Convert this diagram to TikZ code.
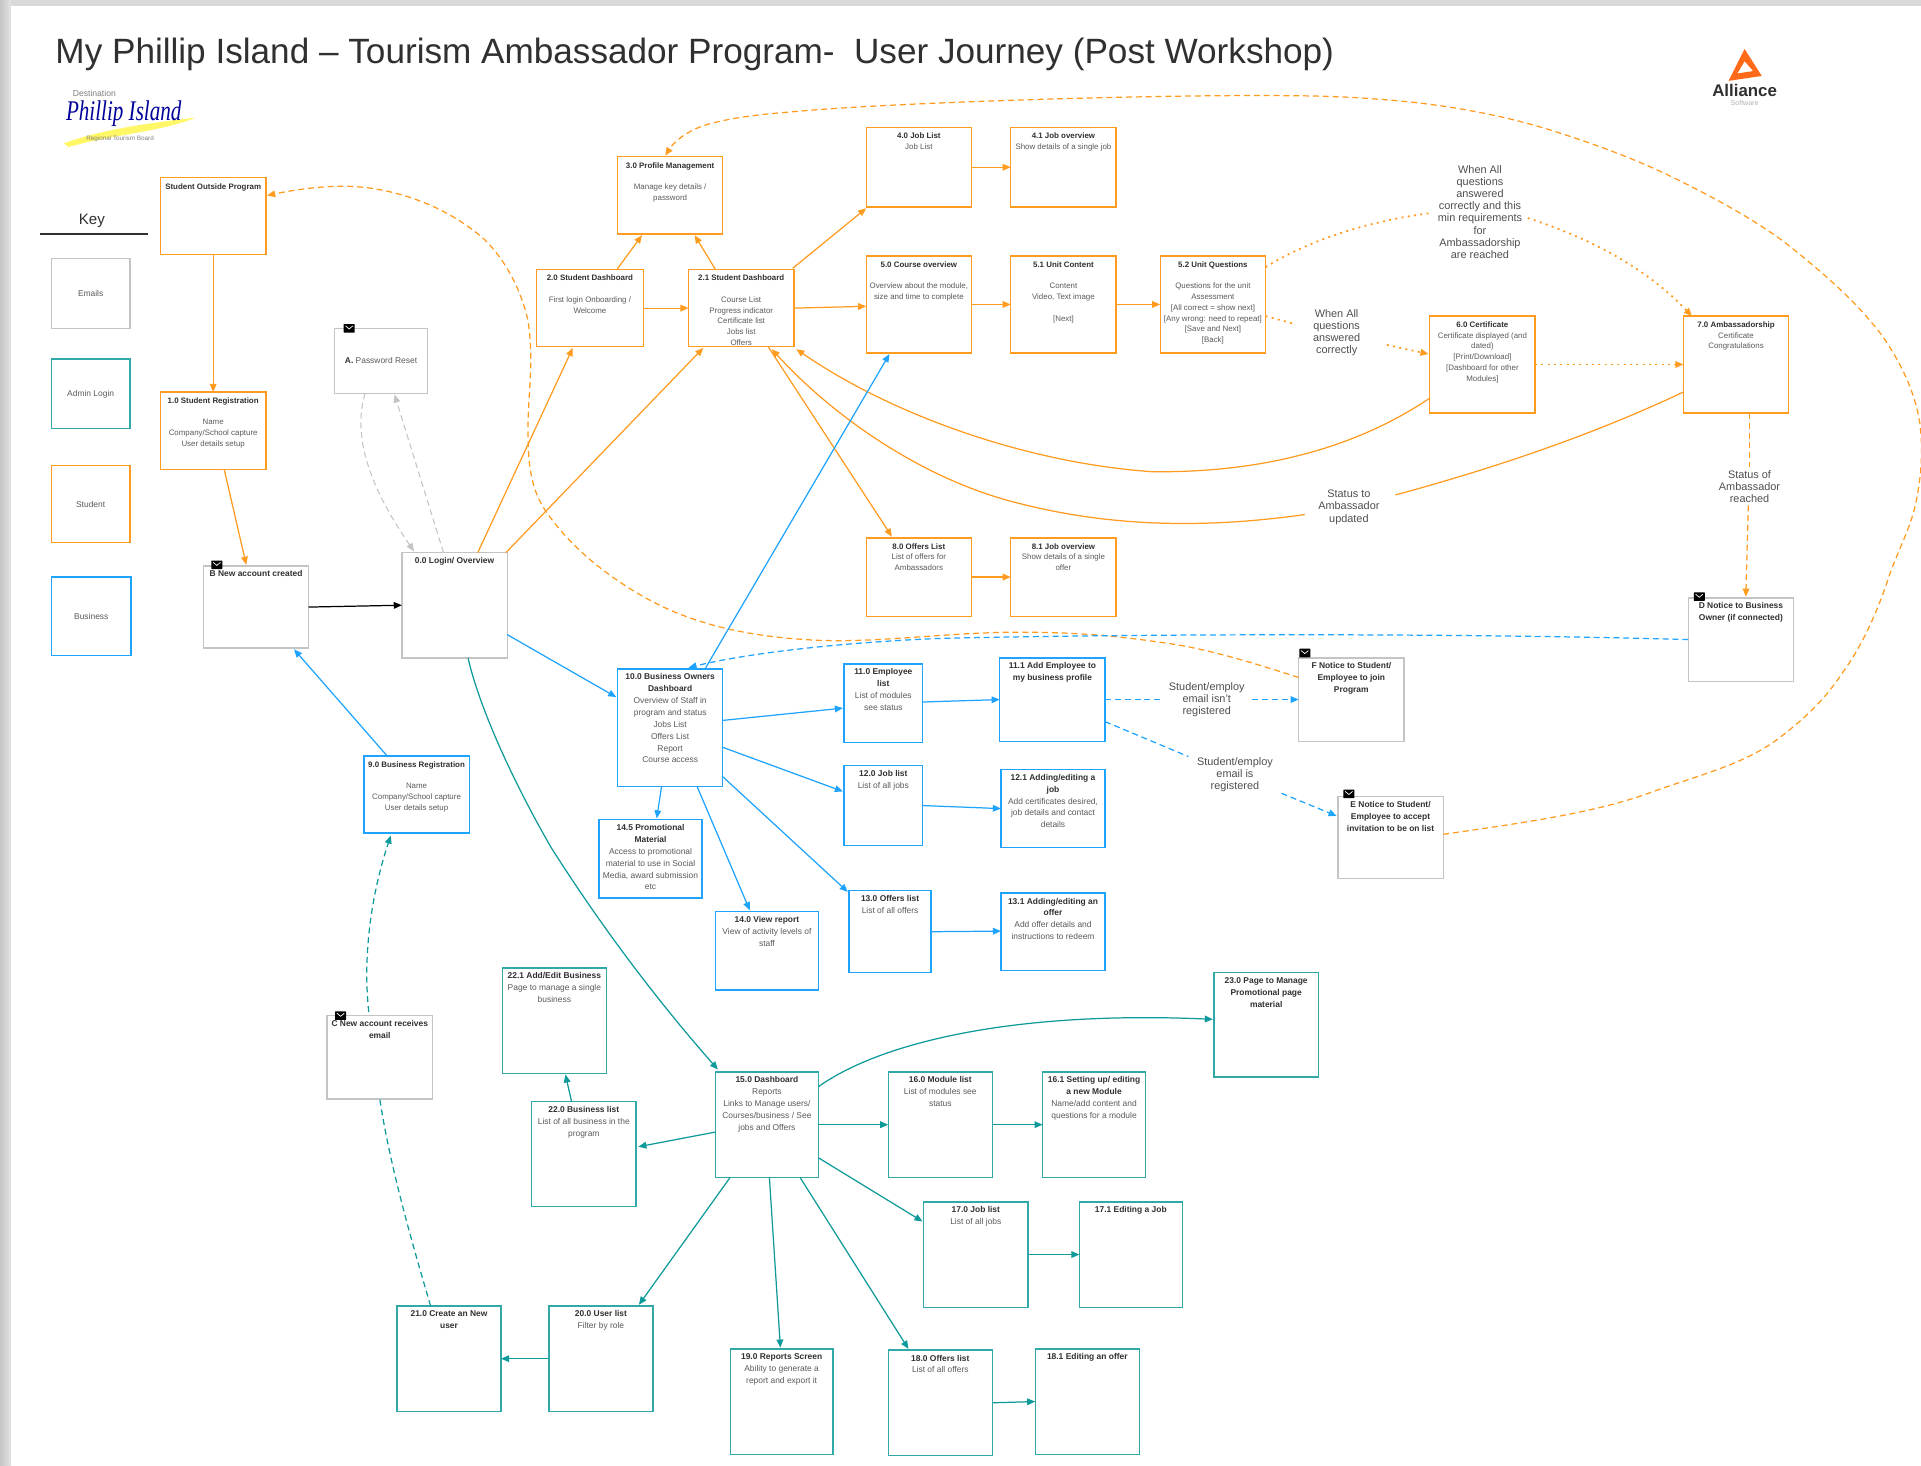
\documentclass[tikz,border=0pt]{standalone}
\usepackage{fontspec}
\setmainfont{Liberation Sans}
\newfontfamily\logoserif{Liberation Serif}
\usetikzlibrary{arrows.meta,calc}
\definecolor{oran}{HTML}{FF9B1F}
\definecolor{blu}{HTML}{1EA3FF}
\definecolor{tea}{HTML}{0E9A9A}
\definecolor{gra}{HTML}{C4C4C4}
\definecolor{titlec}{HTML}{303030}
\definecolor{bodyc}{HTML}{5A5A5A}
\newcommand{\T}[1]{{\color{titlec}\bfseries #1}}
\newcommand{\bxgap}{2pt}
\newcommand{\bx}[7]{%
 \pgfmathsetlengthmacro\bxw{(#5-#3)*0.0245cm}%
 \pgfmathsetlengthmacro\bxh{(#6-#4)*0.0245cm}%
 \node[boxs,#2,minimum width=\bxw,minimum height=\bxh] (#1) at ({(#3+#5)/2},{(#4+#6)/2})
 {\vbox to \bxh{\vskip \bxgap\hbox to \bxw{\hss\begin{tabular}[t]{@{}c@{}}#7\end{tabular}\hss}\vss}};}
\newcommand{\bxc}[7]{%
 \pgfmathsetlengthmacro\bxw{(#5-#3)*0.0245cm}%
 \pgfmathsetlengthmacro\bxh{(#6-#4)*0.0245cm}%
 \node[boxs,#2,font=\fontsize{4.8}{6.1}\selectfont,minimum width=\bxw,minimum height=\bxh] (#1) at ({(#3+#5)/2},{(#4+#6)/2}) {#7};}
\newcommand{\env}[2]{%
 \fill[black,rounded corners=0.3pt] ({#1-4.5},{#2-3.5}) rectangle ({#1+4.5},{#2+3.5});
 \draw[white,line width=0.4pt] ({#1-3},{#2-2}) -- (#1,{#2+0.5}) -- ({#1+3},{#2-2});}
\tikzset{
 x=0.0245cm,y=-0.0245cm,
 boxs/.style={rectangle,draw,line width=0.75pt,inner sep=0pt,outer sep=0pt,fill=white,text=bodyc,align=center},
 ob/.style={draw=oran,font=\fontsize{4.5}{6.1}\selectfont\renewcommand{\bxgap}{2.2pt}},
 bb/.style={draw=blu,font=\fontsize{4.8}{6.75}\selectfont\renewcommand{\bxgap}{1.5pt}},
 tb/.style={draw=tea!85!white,font=\fontsize{4.8}{6.75}\selectfont\renewcommand{\bxgap}{1.5pt}},
 gb/.style={draw=gra,font=\fontsize{4.8}{6.75}\selectfont\renewcommand{\bxgap}{1.5pt}},
 tightl/.style={font=\fontsize{4.5}{6.1}\selectfont\renewcommand{\bxgap}{2.2pt}},
 lab/.style={inner sep=0pt,align=center,text=titlec!85!white,font=\fontsize{6.2}{6.9}\selectfont},
 arr/.style={-{Triangle[length=4.6pt,width=3.8pt]}},
 oline/.style={draw=oran,line width=0.7pt},
 bline/.style={draw=blu,line width=0.7pt},
 tline/.style={draw=tea,line width=0.7pt},
 gline/.style={draw=gra,line width=0.6pt},
 dsh/.style={dash pattern=on 3.4pt off 2.2pt},
 dotl/.style={line width=1pt,dash pattern=on 1.1pt off 2.5pt},
}
\begin{document}
\begin{tikzpicture}
\useasboundingbox (0,0) rectangle (1568,1196);
% page and shadow
\fill[gray!30] (0,0) rectangle (1568,1196);
\shade[left color=gray!45,right color=gray!22] (0,0) rectangle (9,1196);
\fill[white] (9,5) rectangle (1568,1196);
% title and logos
\node[anchor=west,inner sep=0pt,text=titlec,font=\fontsize{20}{24}\selectfont] (title) at (45,44.500)
 {My Phillip Island – Tourism Ambassador Program-\ \ User Journey (Post Workshop)};
\fill[yellow!60!white] (52,117) .. controls (85,105) and (125,100) .. (160,96) .. controls (130,108) and (90,110) .. (56,120) -- cycle;
\node[inner sep=0pt,text=gray,font=\fontsize{4.9}{6}\selectfont] (logodest) at (77,76) {Destination};
\node[inner sep=0pt,text=blue!60!black,yscale=1.35,font=\logoserif\itshape\fontsize{12}{14}\selectfont] (logophil) at (101,93) {Phillip Island};
\node[inner sep=0pt,text=gray,font=\fontsize{3.6}{5}\selectfont] (logoreg) at (98,113.500) {Regional Tourism Board};
\fill[orange!70!red!90,even odd rule] (1424,40) -- (1438,62) -- (1411,66) -- cycle (1424,50) -- (1418,60) -- (1431,58) -- cycle;
\node[inner sep=0pt,text=titlec,font=\bfseries\fontsize{9.6}{10}\selectfont] (logoall) at (1424,74) {Alliance};
\node[inner sep=0pt,text=gray!60,font=\fontsize{4}{5}\selectfont] (logosoft) at (1424,84) {Software};
% key
\node[inner sep=0pt,text=titlec,font=\fontsize{8.6}{10}\selectfont] (keyt) at (75,180) {Key};
\coordinate (keya) at (33,191); \coordinate (keyb) at (121,191);
\draw[titlec,line width=0.6pt] (keya) -- (keyb);
\bxc{kemail}{gb}{42}{211}{106}{268}{Emails}
\bxc{kadmin}{tb}{42}{293}{106}{350}{Admin Login}
\bxc{kstud}{ob}{42}{380}{106}{443}{Student}
\bxc{kbus}{bb}{42}{471}{107}{535}{Business}
% orange boxes
\bx{so}{ob}{131}{145}{217}{208}{\T{Student Outside Program}}
\bx{r1}{ob}{131}{320}{217}{383}{\T{1.0 Student Registration}\\ \\Name\\Company/School capture\\User details setup}
\bx{n20}{ob}{438}{220}{525}{283}{\T{2.0 Student Dashboard}\\ \\First login Onboarding /\\Welcome}
\bx{n21}{ob}{562}{220}{648}{283}{\T{2.1 Student Dashboard}\\ \\Course List\\Progress indicator\\Certificate list\\Jobs list\\Offers}
\bx{n30}{ob}{504}{128}{590}{191}{\T{3.0 Profile Management}\\ \\Manage key details /\\password}
\bx{n40}{ob}{707}{104}{793}{169}{\T{4.0 Job List}\\Job List}
\bx{n41}{ob}{825}{104}{911}{169}{\T{4.1 Job overview}\\Show details of a single job}
\bx{n50}{ob}{707}{209}{793}{288}{\T{5.0 Course overview}\\ \\Overview about the module,\\size and time to complete}
\bx{n51}{ob}{825}{209}{911}{288}{\T{5.1 Unit Content}\\ \\Content\\Video, Text image\\ \\{[Next]}}
\bx{n52}{ob}{947}{209}{1033}{288}{\T{5.2 Unit Questions}\\ \\Questions for the unit\\Assessment\\{[All correct = show next]}\\{[Any wrong: need to repeat]}\\{[Save and Next]}\\{[Back]}}
\bx{n60}{ob}{1167}{258}{1253}{337}{\T{6.0 Certificate}\\Certificate displayed (and\\dated)\\{[Print/Download]}\\{[Dashboard for other}\\Modules{]}}
\bx{n70}{ob}{1374}{258}{1460}{337}{\T{7.0 Ambassadorship}\\Certificate\\Congratulations}
\bx{n80}{ob}{707}{439}{793}{503}{\T{8.0 Offers List}\\List of offers for\\Ambassadors}
\bx{n81}{ob}{825}{439}{911}{503}{\T{8.1 Job overview}\\Show details of a single\\offer}
% gray boxes
\bxc{pa}{gb}{273}{268}{349}{321}{\T{A.} Password Reset}
\bx{nb}{gb}{166}{462}{252}{529}{\T{B New account created}}
\bx{n00}{gb}{328}{451}{414}{537}{\T{0.0 Login/ Overview}}
\bx{nd}{gb}{1378}{488}{1464}{556}{\T{D Notice to Business}\\\T{Owner (if connected)}}
\bx{nf}{gb}{1060}{537}{1146}{605}{\T{F Notice to Student/}\\\T{Employee to join}\\\T{Program}}
\bx{ne}{gb}{1092}{650}{1178}{717}{\T{E Notice to Student/}\\\T{Employee to accept}\\\T{invitation to be on list}}
\bx{nc}{gb}{267}{829}{353}{897}{\T{C New account receives}\\\T{email}}
% blue boxes
\bx{n100}{bb}{504}{546}{590}{642}{\T{10.0 Business Owners}\\\T{Dashboard}\\Overview of Staff in\\program and status\\Jobs List\\Offers List\\Report\\Course access}
\bx{n110}{bb}{689}{542}{753}{606}{\T{11.0 Employee}\\\T{list}\\List of modules\\see status}
\bx{n111}{bb}{816}{537}{902}{605}{\T{11.1 Add Employee to}\\\T{my business profile}}
\bx{n120}{bb}{689}{625}{753}{690}{\T{12.0 Job list}\\List of all jobs}
\bx{n121}{bb}{817}{628}{902}{692}{\T{12.1 Adding/editing a}\\\T{job}\\Add certificates desired,\\job details and contact\\details}
\bx{n130}{bb}{693}{727}{760}{794}{\T{13.0 Offers list}\\List of all offers}
\bx{n131}{bb}{817}{729}{902}{792}{\T{13.1 Adding/editing an}\\\T{offer}\\Add offer details and\\instructions to redeem}
\bx{n145}{bb}{489}{669}{573}{733}{\T{14.5 Promotional}\\\T{Material}\\Access to promotional\\material to use in Social\\Media, award submission\\etc}
\bx{n140}{bb}{584}{744}{668}{808}{\T{14.0 View report}\\View of activity levels of\\staff}
\bx{n90}{bb,tightl}{297}{617}{383}{680}{\T{9.0 Business Registration}\\ \\Name\\Company/School capture\\User details setup}
% teal boxes
\bx{n221}{tb}{410}{790}{495}{876}{\T{22.1 Add/Edit Business}\\Page to manage a single\\business}
\bx{n220}{tb}{434}{899}{519}{985}{\T{22.0 Business list}\\List of all business in the\\program}
\bx{n150}{tb}{584}{875}{668}{961}{\T{15.0 Dashboard}\\Reports\\Links to Manage users/\\Courses/business / See\\jobs and Offers}
\bx{n160}{tb}{725}{875}{810}{961}{\T{16.0 Module list}\\List of modules see\\status}
\bx{n161}{tb}{851}{875}{935}{961}{\T{16.1 Setting up/ editing}\\\T{a new Module}\\Name/add content and\\questions for a module}
\bx{n170}{tb}{754}{981}{839}{1067}{\T{17.0 Job list}\\List of all jobs}
\bx{n171}{tb}{881}{981}{965}{1067}{\T{17.1 Editing a Job}}
\bx{n180}{tb}{725}{1102}{810}{1188}{\T{18.0 Offers list}\\List of all offers}
\bx{n181}{tb}{845}{1101}{930}{1187}{\T{18.1 Editing an offer}}
\bx{n190}{tb}{596}{1101}{680}{1187}{\T{19.0 Reports Screen}\\Ability to generate a\\report and export it}
\bx{n200}{tb}{448}{1066}{533}{1152}{\T{20.0 User list}\\Filter by role}
\bx{n210}{tb}{324}{1066}{409}{1152}{\T{21.0 Create an New}\\\T{user}}
\bx{n230}{tb}{991}{794}{1076}{879}{\T{23.0 Page to Manage}\\\T{Promotional page}\\\T{material}}
% envelope marks
\env{285}{268}\env{177}{461}\env{278}{829}\env{1387}{487}\env{1101}{648}\env{1065}{533}
% edge labels
\node[lab] (L1) at (1208,173) {When All\\questions\\answered\\correctly and this\\min requirements\\for\\Ambassadorship\\are reached};
\node[lab] (L2) at (1091,271.500) {When All\\questions\\answered\\correctly};
\node[lab] (L3) at (1101,414) {Status to\\Ambassador\\updated};
\node[lab] (L4) at (1428,397) {Status of\\Ambassador\\reached};
\node[lab] (L5) at (985,571) {Student/employ\\email isn't\\registered};
\node[lab] (L6) at (1008,632.500) {Student/employ\\email is\\registered};
% orange connectors
\draw[oline,arr] (so) -- (r1);
\draw[oline,arr] ($(r1.south)+(9,0)$) -- ($(nb.north)+(-8,-1)$);
\draw[oline,arr] ($(n00.north)+(19,0)$) -- ($(n20.south)+(-14,1)$);
\draw[oline,arr] ($(n00.north)+(42,0)$) -- ($(n21.south)+(-31,1)$);
\draw[oline,arr] ($(n20.north)+(22,0)$) -- ($(n30.south)+(-23,1)$);
\draw[oline,arr] (n20.east) -- (n21.west);
\draw[oline,arr] ($(n21.north)+(-21,0)$) -- ($(n30.south)+(20,1)$);
\draw[oline,arr] ($(n21.north)+(42,-1)$) -- ($(n40.south west)+(0,1)$);
\draw[oline,arr] (n21.east) -- ($(n50.west)+(0,1.500)$);
\draw[oline,arr] (n40.east) -- (n41.west);
\draw[oline,arr] (n50.east) -- (n51.west);
\draw[oline,arr] (n51.east) -- (n52.west);
\draw[oline,arr] (n80.east) -- (n81.west);
\draw[oline,arr] ($(n21.south)+(22,0)$) -- ($(n80.north)+(-22,-1)$);
\draw[oline,arr] ($(n60.west)+(0,27.500)$) .. controls (1100,370) and (1020,386) .. (940,385) .. controls (840,378) and (730,340) .. ($(n21.south east)+(2,2)$);
\draw[oline] ($(n70.west)+(0,22.500)$) .. controls (1300,355) and (1220,382) .. ($(L3.center)+(38,-10)$);
\draw[oline,arr] ($(L3.center)+(-36,6)$) .. controls (980,432) and (900,430) .. (821,408) .. controls (750,388) and (680,340) .. ($(n21.south)+(25,2)$);
\draw[oline,dsh] ($(n70.south)+(11,0)$) -- ($(L4.north)+(0,-2)$);
\draw[oline,dsh,arr] ($(L4.south)+(-1,2)$) -- ($(nd.north)+(4,-1)$);
\draw[oline,dotl] ($(n52.east)+(0,-30.500)$) .. controls (1070,195) and (1120,180) .. ($(L1.center)+(-41,1)$);
\draw[oline,dotl,arr] ($(L1.center)+(39,5)$) .. controls (1300,195) and (1345,220) .. ($(n70.north)+(-36,0)$);
\draw[oline,dotl] ($(n52.east)+(0,9.500)$) -- ($(L2.center)+(-34,-7)$);
\draw[oline,dotl,arr] ($(L2.center)+(41,10)$) -- ($(n60.west)+(-1,-8.500)$);
\draw[oline,dotl,arr] (n60.east) -- (n70.west);
\draw[oline,dsh,arr] ($(ne.east)+(0,-2.500)$) .. controls (1240,672) and (1300,664) .. (1347,647) .. controls (1385,633) and (1425,624) .. (1454,601) .. controls (1476,584) and (1490,570) .. (1504,549) .. controls (1520,527) and (1532,500) .. (1541,473) .. controls (1548,452) and (1558,434) .. (1563,414) .. controls (1568,392) and (1570,368) .. (1567,345) .. controls (1563,320) and (1552,297) .. (1537,275) .. controls (1517,248) and (1490,224) .. (1457,198) .. controls (1430,178) and (1400,162) .. (1370,147) .. controls (1336,130) and (1300,117) .. (1265,106) .. controls (1220,92) and (1170,84) .. (1125,81) .. controls (1090,78) and (1055,78) .. (1020,78) .. controls (930,78) and (750,83) .. (661,90) .. controls (625,93) and (600,95) .. (576,102) .. controls (560,107) and (550,116) .. ($(n30.north)+(-4,-1)$);
\draw[oline,dsh,arr] ($(nf.west)+(0,-18)$) .. controls (1020,540) and (980,528) .. (945,524) .. controls (905,518) and (870,516) .. (832,516) .. controls (770,516) and (710,526) .. (657,522) .. controls (625,520) and (595,515) .. (568,506) .. controls (550,500) and (535,493) .. (520,484) .. controls (490,466) and (465,445) .. (446,418) .. controls (432,398) and (431,375) .. (431,350) .. controls (431,320) and (436,295) .. (431,262) .. controls (425,235) and (412,212) .. (396,196) .. controls (365,168) and (320,152) .. (280,152) .. controls (260,152) and (240,155) .. ($(so.east)+(1,-17)$);
% blue connectors
\draw[bline,arr] ($(n00.east)+(0,24)$) -- ($(n100.west)+(-1,-25)$);
\draw[bline,arr] ($(n90.north)+(-24,0)$) -- ($(nb.south)+(31,1)$);
\draw[bline,arr] ($(n100.north)+(29,-1)$) -- ($(n50.south)+(-24,1)$);
\draw[bline,arr] ($(n100.east)+(0,-6)$) -- ($(n110.west)+(-1,4)$);
\draw[bline,arr] ($(n110.east)+(0,-1)$) -- (n111.west);
\draw[bline,arr] ($(n100.east)+(0,16)$) -- ($(n120.west)+(-1,-11.500)$);
\draw[bline,arr] (n120.east) -- (n121.west);
\draw[bline,arr] ($(n100.east)+(0,40)$) -- ($(n130.west)+(-1,-32.500)$);
\draw[bline,arr] (n130.east) -- ($(n131.west)+(0,-0.500)$);
\draw[bline,arr] ($(n100.south)+(-7,0)$) -- ($(n145.north)+(5,-1)$);
\draw[bline,arr] ($(n100.south)+(22,0)$) -- ($(n140.north)+(-14,-1)$);
\draw[bline,dsh,arr] (nd.west) .. controls (1200,517) and (950,517) .. (770,521) .. controls (690,524) and (610,533) .. ($(n100.north)+(15,-1)$);
\draw[bline,dsh] (n111.east) -- ($(L5.center)+(-37,0)$);
\draw[bline,dsh,arr] ($(L5.center)+(37,0)$) -- (nf.west);
\draw[bline,dsh] ($(n111.east)+(0,18)$) -- ($(L6.center)+(-38,-15)$);
\draw[bline,dsh,arr] ($(L6.center)+(38,15)$) -- ($(ne.west)+(-1,-17.500)$);
% teal connectors
\draw[tline,arr] ($(n00.south)+(11,0)$) .. controls (392,580) and (420,640) .. (450,692) .. controls (490,755) and (535,815) .. ($(n150.north)+(-40,-2)$);
\draw[tline,arr] ($(n150.east)+(0,-31)$) .. controls (720,850) and (830,825) .. ($(n230.west)+(-1,-4.500)$);
\draw[tline,dsh,arr] ($(nc.north)+(-9,-3)$) .. controls (296,780) and (303,730) .. ($(n90.south)+(-21,2)$);
\draw[tline,dsh] ($(n210.north)+(-15,0)$) .. controls (335,1010) and (318,950) .. (nc.south);
\draw[tline,arr] ($(n150.west)+(0,6)$) -- ($(n220.east)+(2,-6)$);
\draw[tline,arr] ($(n220.north)+(-10,0)$) -- ($(n221.south)+(9,1)$);
\draw[tline,arr] (n150.east) -- (n160.west);
\draw[tline,arr] (n160.east) -- (n161.west);
\draw[tline,arr] ($(n150.east)+(0,27)$) -- ($(n170.west)+(-1,-27)$);
\draw[tline,arr] (n170.east) -- (n171.west);
\draw[tline,arr] ($(n150.south)+(27,0)$) -- ($(n180.north)+(-26,-1)$);
\draw[tline,arr] (n180.east) -- (n181.west);
\draw[tline,arr] ($(n150.south)+(2,0)$) -- ($(n190.north)+(-1,-1)$);
\draw[tline,arr] ($(n150.south)+(-30,0)$) -- ($(n200.north)+(31,-1)$);
\draw[tline,arr] (n200.west) -- (n210.east);
% gray and black connectors
\draw[gline,dsh,arr] ($(pa.south)+(-13,0)$) .. controls (288,355) and (300,395) .. ($(n00.north)+(-33,-1)$);
\draw[gline,dsh,arr] ($(n00.north)+(-9,0)$) -- ($(pa.south)+(11,1)$);
\draw[black,line width=0.7pt,arr] (nb.east) -- (n00.west);
\end{tikzpicture}
\end{document}
